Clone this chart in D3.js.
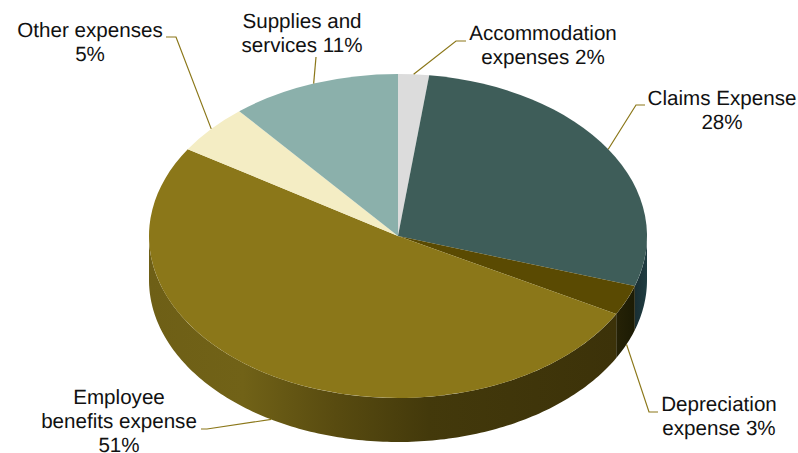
<!DOCTYPE html>
<html>
<head>
<meta charset="utf-8">
<script src="https://cdn.jsdelivr.net/npm/d3@7/dist/d3.min.js"></script>
<style>
  html, body { margin: 0; padding: 0; background: #fff; }
  svg { display: block; }
  text { font-family: "Liberation Sans", Arial, sans-serif; font-size: 20.6px; fill: #111; text-rendering: geometricPrecision; }
</style>
</head>
<body>
<svg id="chart" width="798" height="453"></svg>
<script>
// Expense breakdown, clockwise from twelve o'clock
const categories = ["Accommodation expenses", "Claims Expense", "Depreciation expense", "Employee benefits expense", "Other expenses", "Supplies and services"];
const shares = [2, 28, 3, 51, 5, 11];
const labelLines = [
  ["Accommodation", "expenses 2%"],
  ["Claims Expense", "28%"],
  ["Depreciation", "expense 3%"],
  ["Employee", "benefits expense", "51%"],
  ["Other expenses", "5%"],
  ["Supplies and", "services 11%"]
];
const topColors = ["#dcdcdc", "#3e5d59", "#5a4a02", "#8b7719", "#f4edc4", "#8bb0ab"];
const wallStops = [
  [[0, "#8a8a8a"], [1, "#8a8a8a"]],
  [[0, "#1a2f33"], [1, "#1f3d42"]],
  [[0, "#262206"], [1, "#1c1b04"]],
  [[0, "#6e5f16"], [0.2, "#716217"], [0.4, "#584b10"], [0.6, "#43390b"], [1, "#3c3209"]],
  [[0, "#8a8460"], [1, "#8a8460"]],
  [[0, "#4a6360"], [1, "#4a6360"]]
];

// Pie geometry
const cx = 398, cy = 236, rx = 249, ry = 162, depth = 44;
const radial = { x: a => cx + rx * Math.sin(a), y: a => cy - ry * Math.cos(a) };

// Label placement: elbow points and text anchor for each leader
const layout = [
  { elbow: [456, 41], end: [466, 41], text: [543, 40] },
  { elbow: [636, 105], end: [645, 105], text: [722, 105] },
  { elbow: [649, 412], end: [658, 412], text: [719, 411] },
  { elbow: [207, 429], end: [201, 429], text: [119, 404] },
  { elbow: [176, 37], end: [166, 37], text: [90, 37] },
  { elbow: [316, 57], end: [316, 57], text: [302, 28] }
];

const pie = d3.pie().sort(null).startAngle(0).endAngle(2 * Math.PI);
const arcs = pie(shares);
const svg = d3.select("#chart");
const defs = svg.append("defs");

const unit = d3.arc().innerRadius(0).outerRadius(rx);

// Outer wall of a slice: the visible part of the rim, lowered by the pie depth
function wallPath(d) {
  const start = Math.max(d.startAngle, Math.PI / 2);
  const end = Math.min(d.endAngle, 3 * Math.PI / 2);
  if (end <= start) return null;
  const p = d3.path();
  const steps = Math.max(2, Math.ceil((end - start) * 60));
  const angles = d3.range(steps + 1).map(i => start + (end - start) * i / steps);
  angles.forEach((a, i) => i ? p.lineTo(radial.x(a), radial.y(a)) : p.moveTo(radial.x(a), radial.y(a)));
  angles.slice().reverse().forEach(a => p.lineTo(radial.x(a), radial.y(a) + depth));
  p.closePath();
  return p.toString();
}

// Side shading runs left to right across each wall
arcs.forEach((d, i) => {
  const a0 = Math.max(d.startAngle, Math.PI / 2), a1 = Math.min(d.endAngle, 3 * Math.PI / 2);
  if (a1 <= a0) return;
  const g = defs.append("linearGradient").attr("id", "wall" + i)
    .attr("gradientUnits", "userSpaceOnUse")
    .attr("x1", Math.min(radial.x(a0), radial.x(a1))).attr("x2", Math.max(radial.x(a0), radial.x(a1)))
    .attr("y1", 0).attr("y2", 0);
  wallStops[i].forEach(([offset, color]) => g.append("stop").attr("offset", offset).attr("stop-color", color));
});

const walls = svg.append("g");
arcs.forEach((d, i) => {
  const path = wallPath(d);
  if (path) walls.append("path").attr("d", path).attr("fill", `url(#wall${i})`);
});

svg.append("g")
  .attr("transform", `translate(${cx},${cy}) scale(1,${ry / rx})`)
  .selectAll("path").data(arcs).join("path")
  .attr("d", unit)
  .attr("fill", (d, i) => topColors[i]);

// Leader lines start on the rim at each slice's middle angle
const leader = d3.line();
svg.append("g").selectAll("path").data(arcs).join("path")
  .attr("fill", "none").attr("stroke", "#8b7719").attr("stroke-width", 1.2)
  .attr("d", (d, i) => {
    const mid = (d.startAngle + d.endAngle) / 2;
    const low = mid > Math.PI / 2 && mid < 3 * Math.PI / 2;
    const rim = [radial.x(mid), radial.y(mid) + (low ? depth : 0)];
    return leader([rim, layout[i].elbow, layout[i].end]);
  });

const lineHeight = 24;
const labels = svg.append("g").selectAll("text").data(labelLines).join("text")
  .attr("text-anchor", "middle")
  .attr("transform", (d, i) => `translate(${layout[i].text})`);
labels.selectAll("tspan").data(d => d).join("tspan")
  .attr("x", 0).attr("y", (d, k) => k * lineHeight)
  .text(d => d);
</script>
</body>
</html>
